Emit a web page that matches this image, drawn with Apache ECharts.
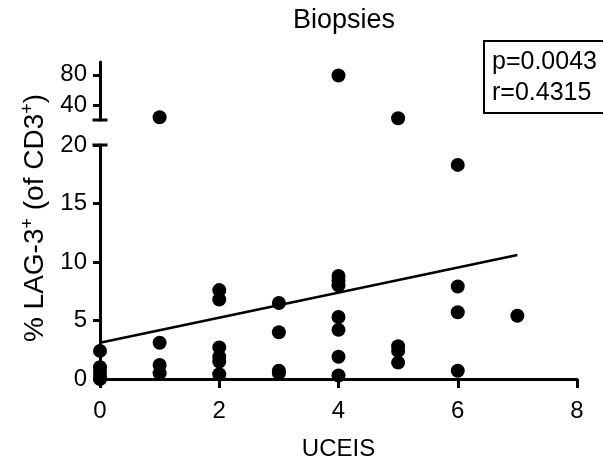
<!DOCTYPE html>
<html>
<head>
<meta charset="utf-8">
<script src="https://cdn.jsdelivr.net/npm/echarts@6/dist/echarts.min.js"></script>
<style>
  html, body { margin: 0; padding: 0; background: #fff; }
  #chart { width: 603px; height: 461px; }
</style>
</head>
<body>
<div id="chart"></div>
<script>
// UCEIS score vs % LAG-3+ cells, split y axis (0-20 and 20-100)
const lowPoints = [
  [0, 2.4], [0, 1.0], [0, 0.6], [0, 0.2], [0, 0.0],
  [1, 3.1], [1, 1.2], [1, 0.5],
  [2, 7.6], [2, 6.8], [2, 2.7], [2, 1.9], [2, 1.5], [2, 0.4],
  [3, 6.5], [3, 4.0], [3, 0.7], [3, 0.5],
  [4, 8.8], [4, 8.4], [4, 8.0], [4, 5.3], [4, 4.2], [4, 1.9], [4, 0.3],
  [5, 2.8], [5, 2.4], [5, 1.4],
  [6, 18.3], [6, 7.9], [6, 5.7], [6, 0.7],
  [7, 5.4]
];
const highPoints = [[1, 23.6], [4, 79], [5, 22.3]];
const fitLine = [[0, 3.1], [7, 10.6]];
const xTicks = [0, 2, 4, 6, 8];
const lowTicks = [0, 5, 10, 15, 20];
const highTicks = [40, 80];
const statsText = 'p=0.0043\nr=0.4315';

const font = 'Liberation Sans, Arial, sans-serif';
const axisLine = { lineStyle: { color: '#000', width: 3 } };
const axisTick = { length: 7, lineStyle: { color: '#000', width: 3 } };
const axisLabel = { color: '#000', fontSize: 24, fontFamily: font, margin: 13 };

const chart = echarts.init(document.getElementById('chart'));
chart.setOption({
  animation: false,
  title: {
    text: 'Biopsies',
    left: 339, top: 2, textAlign: 'center',
    textStyle: { fontSize: 27, fontWeight: 'normal', color: '#000', fontFamily: font }
  },
  graphic: [
    {
      type: 'text',
      x: 35, y: 218,
      rotation: Math.PI / 2,
      style: {
        text: '% LAG-3{sup|+} (of CD3{sup|+})',
        fill: '#000',
        font: '28px ' + font,
        align: 'center',
        verticalAlign: 'middle',
        rich: { sup: { fontSize: 18, fontFamily: font, fill: '#000', padding: [0, 0, 13, 0] } }
      }
    },
    {
      type: 'rect',
      shape: { x: 484, y: 41, width: 130, height: 72 },
      style: { fill: '#fff', stroke: '#000', lineWidth: 2 }
    },
    {
      type: 'text',
      x: 492, y: 47,
      style: { text: statsText, fill: '#000', font: '25px ' + font, lineHeight: 31 }
    }
  ],
  grid: [
    { left: 100, right: 26, top: 145, bottom: 82, outerBoundsMode: 'none' },
    { left: 100, right: 26, top: 62, height: 58, outerBoundsMode: 'none' }
  ],
  xAxis: [
    {
      gridIndex: 0, type: 'value', min: 0, max: 8, interval: 2,
      name: 'UCEIS', nameLocation: 'middle', nameGap: 58,
      nameTextStyle: { fontSize: 24, color: '#000', fontFamily: font },
      axisLine, splitLine: { show: false },
      axisTick: { length: 9, lineStyle: { color: '#000', width: 3 } },
      axisLabel: { ...axisLabel, margin: 20, customValues: xTicks }
    },
    {
      gridIndex: 1, type: 'value', min: 0, max: 8, show: false
    }
  ],
  yAxis: [
    {
      gridIndex: 0, type: 'value', min: 0, max: 20, interval: 5,
      axisLine: { ...axisLine, symbol: ['none', 'rect'], symbolSize: [15, 3] },
      axisTick, splitLine: { show: false },
      axisLabel: { ...axisLabel, customValues: lowTicks }
    },
    {
      gridIndex: 1, type: 'value', min: 20, max: 97,
      axisLine: { ...axisLine, onZero: false, symbol: ['rect', 'none'], symbolSize: [15, 3] },
      axisTick: { ...axisTick, customValues: highTicks },
      axisLabel: { ...axisLabel, customValues: highTicks },
      splitLine: { show: false }
    }
  ],
  series: [
    {
      type: 'scatter', xAxisIndex: 0, yAxisIndex: 0,
      data: lowPoints, symbolSize: 14, clip: false,
      itemStyle: { color: '#000', opacity: 1 }
    },
    {
      type: 'scatter', xAxisIndex: 1, yAxisIndex: 1,
      data: highPoints, symbolSize: 14, clip: false,
      itemStyle: { color: '#000', opacity: 1 }
    },
    {
      type: 'line', xAxisIndex: 0, yAxisIndex: 0,
      data: fitLine, showSymbol: false, symbol: 'none',
      lineStyle: { color: '#000', width: 2.5 }
    }
  ]
});
</script>
</body>
</html>
